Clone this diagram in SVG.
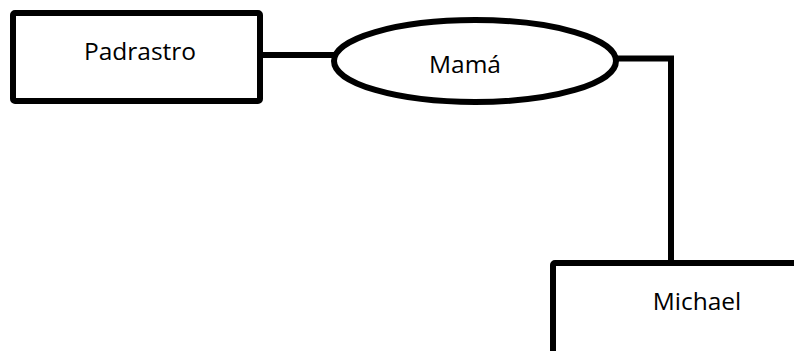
<svg xmlns="http://www.w3.org/2000/svg" width="794" height="351" viewBox="0 0 794 351">
<style>
.n{fill:#fff;stroke:#000;stroke-width:6}
.c{fill:none;stroke:#000;stroke-width:6}
text{font-family:"Open Sans","Liberation Sans",sans-serif;font-size:24.5px;fill:#000;text-anchor:middle}
</style>
<rect width="794" height="351" fill="#fff"/>
<g id="connectors">
<line class="c" x1="260" y1="55" x2="336" y2="55"/>
<polyline class="c" points="614,58.5 671,58.5 671,263"/>
</g>
<g id="padrastro">
<rect class="n" x="13" y="13" width="247" height="88" rx="2"/>
<text x="140" y="59.5">Padrastro</text>
</g>
<g id="mama">
<ellipse class="n" cx="475" cy="61" rx="141" ry="41"/>
<text x="465" y="73">Mamá</text>
</g>
<g id="michael">
<rect class="n" x="553" y="263" width="260" height="110" rx="2"/>
<text x="697" y="310">Michael</text>
</g>
</svg>
